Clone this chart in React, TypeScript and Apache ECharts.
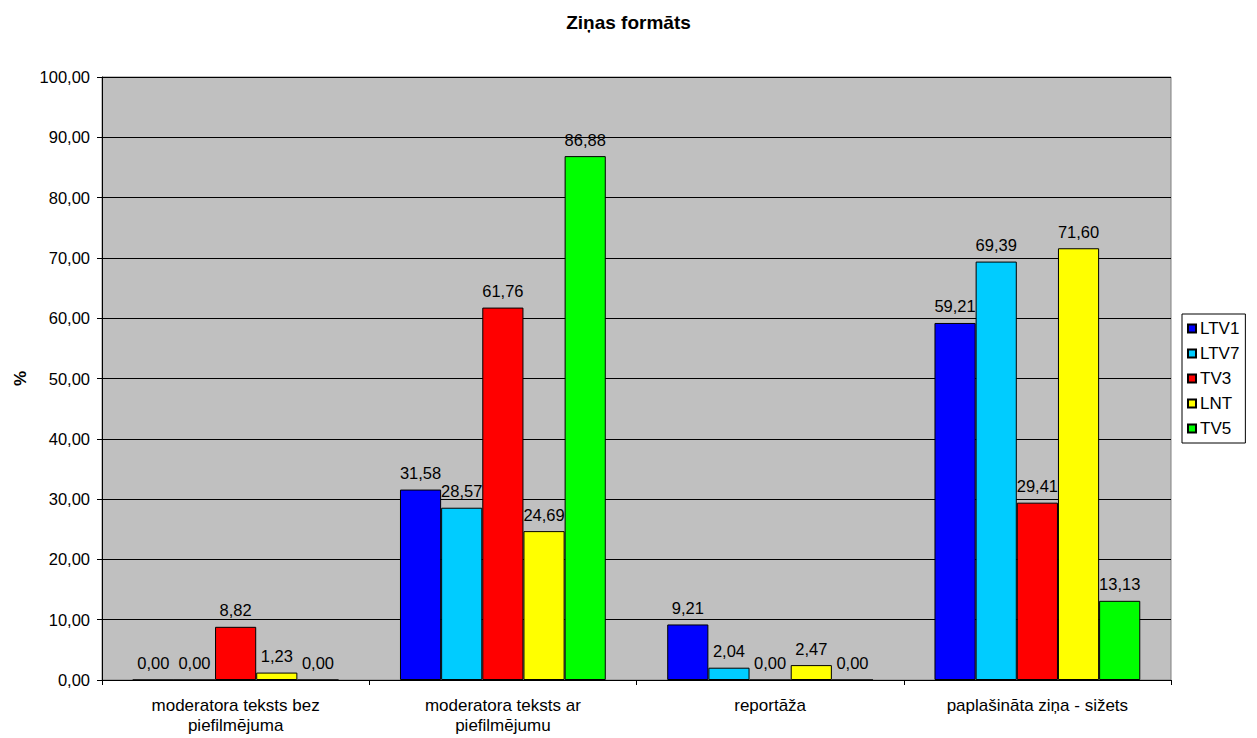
import React, { useEffect, useRef } from "react";
import * as echarts from "echarts";

const categories = [
  "moderatora teksts bez\npiefilmējuma",
  "moderatora teksts ar\npiefilmējumu",
  "reportāža",
  "paplašināta ziņa - sižets",
];
const seriesNames = ["LTV1", "LTV7", "TV3", "LNT", "TV5"];
const ltv1 = [0.0, 31.58, 9.21, 59.21];
const ltv7 = [0.0, 28.57, 2.04, 69.39];
const tv3 = [8.82, 61.76, 0.0, 29.41];
const lnt = [1.23, 24.69, 2.47, 71.6];
const tv5 = [0.0, 86.88, 0.0, 13.13];
const colors = ["#0000FF", "#00CCFF", "#FF0000", "#FFFF00", "#00FF00"];

const fmt = (v: number) => v.toFixed(2).replace(".", ",");

export default function App() {
  const ref = useRef<HTMLDivElement>(null);
  useEffect(() => {
    if (!ref.current) return;
    const chart = echarts.init(ref.current, null, { renderer: "svg" });
    const data = [ltv1, ltv7, tv3, lnt, tv5];
    const font = "Liberation Sans, Arial, sans-serif";
    chart.setOption({
      animation: false,
      backgroundColor: "#fff",
      textStyle: { fontFamily: font },
      title: {
        text: "Ziņas formāts",
        left: "center",
        top: 8,
        textStyle: { fontSize: 19, fontWeight: "bold", color: "#000", fontFamily: font },
      },
      legend: {
        orient: "vertical",
        left: 1182,
        top: 314,
        padding: [6, 6, 6, 5],
        itemWidth: 8,
        itemHeight: 8,
        itemGap: 8,
        borderColor: "#000",
        borderWidth: 1,
        backgroundColor: "#fff",
        icon: "rect",
        textStyle: { fontSize: 17, color: "#000", fontFamily: font, padding: [0, 0, 0, -1] },
        data: seriesNames,
      },
      grid: { left: 102, right: 86, top: 77, bottom: 58, show: true, backgroundColor: "#C0C0C0", borderColor: "#808080", borderWidth: 1 },
      xAxis: {
        type: "category",
        data: categories,
        axisLine: { lineStyle: { color: "#000" } },
        axisTick: { show: true, length: 5, lineStyle: { color: "#000" } },
        axisLabel: { fontSize: 17, color: "#000", margin: 15, lineHeight: 20, interval: 0, fontFamily: font },
      },
      yAxis: {
        type: "value",
        min: 0,
        max: 100,
        interval: 10,
        name: "%",
        nameLocation: "middle",
        nameGap: 68,
        nameTextStyle: { fontSize: 17, fontWeight: "bold", color: "#000", fontFamily: font },
        axisLine: { show: true, lineStyle: { color: "#000" } },
        axisTick: { show: true, length: 5, lineStyle: { color: "#000" } },
        axisLabel: { fontSize: 16.5, color: "#000", margin: 12, formatter: (v: number) => fmt(v), fontFamily: font },
        splitLine: { show: true, lineStyle: { color: "#000", width: 1 } },
      },
      series: seriesNames.map((n, i) => ({
        name: n,
        type: "bar",
        data: data[i],
        barGap: "0%",
        barCategoryGap: "23%",
        itemStyle: { color: colors[i], borderColor: "#000", borderWidth: 1 },
        label: {
          show: true,
          position: "top",
          distance: 8,
          fontSize: 16.5,
          color: "#000",
          fontFamily: font,
          formatter: (p: any) => fmt(p.value),
        },
      })),
    });
    return () => chart.dispose();
  }, []);
  return <div ref={ref} style={{ width: 1257, height: 738, position: "absolute", left: 0, top: 0 }} />;
}
